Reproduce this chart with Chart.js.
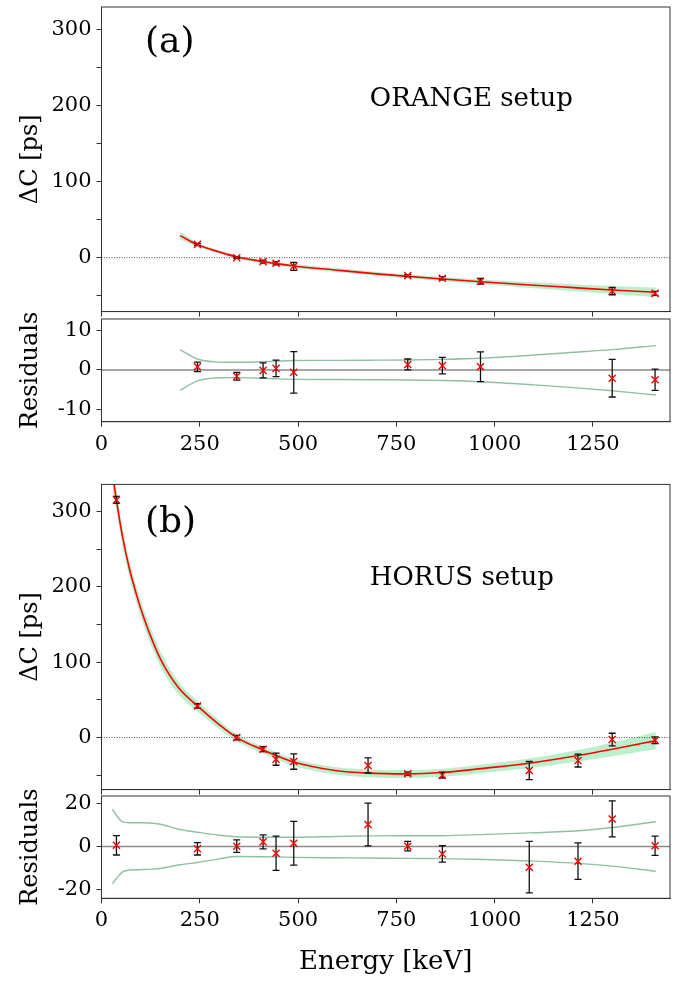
<!DOCTYPE html>
<html lang="en">
<head>
  <meta charset="UTF-8">
  <title>Delta C calibration</title>
  <script src="https://cdn.jsdelivr.net/npm/chart.js"></script>
  <style>
    body { margin: 0; background: #fff; }
    #wrap { position: relative; width: 686px; height: 986px; }
    canvas { position: absolute; left: 0; }
  </style>
</head>
<body>
<div id="wrap">
  <canvas id="aMain" width="686" height="318" style="top:0px"></canvas>
  <canvas id="aRes" width="686" height="180" style="top:298px"></canvas>
  <canvas id="bMain" width="686" height="318" style="top:478px"></canvas>
  <canvas id="bRes" width="686" height="210" style="top:776px"></canvas>
</div>

<script>
  // shared x axis
  const X_MAX = 1446;
  const xTicks = [0, 250, 500, 750, 1000, 1250];
  const yTicksMain = [-50, 0, 50, 100, 150, 200, 250, 300];
  const yLabelsMain = [0, 100, 200, 300];
  const yTicksResA = [-10, 0, 10];
  const yTicksResB = [-20, 0, 20];

  // (a) ORANGE setup
  const energyA = [244, 344, 411, 444, 489, 779, 867, 964, 1299, 1408];
  const deltaCA = [17.5, 0, -5.2, -7.4, -11.4, -23.6, -27, -31, -44, -47];
  const errA    = [1.2, 1.0, 1.9, 2.1, 5.3, 1.4, 2.1, 3.8, 4.8, 2.7];
  const residA  = [0.8, -1.6, -0.1, 0.4, -0.6, 1.4, 1.1, 0.8, -2.1, -2.5];
  const fitXA   = [200, 244, 300, 344, 411, 444, 489, 600, 700, 779, 867, 964, 1100, 1200, 1299, 1410];
  const fitYA   = [29, 17, 7.5, 1, -5.1, -7.8, -10.9, -16.5, -21.3, -24.6, -28, -31.7, -36.3, -39.4, -42.6, -45.6];
  const bandUpA = [5.1, 2.8, 2.0, 1.95, 2.1, 2.25, 2.4, 2.45, 2.5, 2.55, 2.7, 3.0, 3.8, 4.5, 5.2, 6.2];
  const bandLoA = [5.2, 2.8, 2.0, 1.95, 2.1, 2.25, 2.4, 2.45, 2.5, 2.55, 2.7, 3.0, 3.8, 4.5, 5.3, 6.4];

  // (b) HORUS setup
  const energyB = [38, 244, 344, 411, 444, 489, 678, 779, 867, 1088, 1212, 1299, 1408];
  const deltaCB = [315.5, 42, 0, -15.4, -28.7, -31.8, -37, -48, -49.8, -43.7, -30.5, -2.6, -3.5];
  const errB    = [4.5, 2.9, 2.9, 3.3, 8, 10.2, 10, 2.2, 3.8, 12, 8.5, 8.4, 4.5];
  const residB  = [0.5, -1.1, 0.1, 2.1, -3.2, 1.5, 10.2, 0.1, -3.5, -9.7, -6.9, 12.8, 0.3];
  const fitXB   = [28, 38, 53, 71, 90, 107, 130, 153, 196, 244, 300, 344, 411, 444, 489, 594, 678, 779, 867, 977, 1088, 1212, 1299, 1410];
  const fitYB   = [349, 315, 268, 224, 188, 160, 128, 101, 66, 42, 17, 0, -16.5, -23.8, -32.5, -43.7, -47.2, -48.1, -46.3, -40.5, -34, -23.8, -15.4, -4];
  const bandUpB = [17.4, 14.5, 11.5, 11, 11, 11, 10.8, 10.2, 8, 6.6, 5.2, 4.5, 4.3, 4.3, 4.3, 4.6, 4.9, 5, 5, 5.6, 6.3, 7.3, 8.8, 11.5];
  const bandLoB = [17.4, 15, 12, 11, 10.9, 10.8, 10.6, 10.2, 8.7, 7.5, 5.8, 4.7, 4.8, 4.9, 5.1, 5.3, 5.4, 5.6, 5.7, 6.1, 6.8, 7.9, 9.2, 11.6];

  Chart.defaults.font.family = '"DejaVu Serif", serif';
  Chart.defaults.color = '#000';

  const pts = (xs, ys) => xs.map((x, i) => ({x: x, y: ys[i]}));

  const errorBars = {
    id: 'errorBars',
    beforeDatasetDraw(chart, args) {
      const ds = chart.data.datasets[args.index];
      if (!ds.errors) return;
      const ctx = chart.ctx, sx = chart.scales.x, sy = chart.scales.y;
      ctx.save();
      ctx.strokeStyle = '#111';
      ctx.lineWidth = 1.3;
      ds.data.forEach((p, i) => {
        const x = sx.getPixelForValue(p.x);
        const y1 = sy.getPixelForValue(p.y - ds.errors[i]);
        const y2 = sy.getPixelForValue(p.y + ds.errors[i]);
        ctx.beginPath();
        ctx.moveTo(x, y1); ctx.lineTo(x, y2);
        ctx.moveTo(x - 3.5, y1); ctx.lineTo(x + 3.5, y1);
        ctx.moveTo(x - 3.5, y2); ctx.lineTo(x + 3.5, y2);
        ctx.stroke();
      });
      ctx.restore();
    }
  };

  const frame = {
    id: 'frame',
    afterDraw(chart) {
      const {ctx, chartArea: a} = chart;
      ctx.save();
      ctx.strokeStyle = '#333';
      ctx.lineWidth = 1;
      ctx.strokeRect(a.left, a.top, a.right - a.left, a.bottom - a.top);
      ctx.restore();
    }
  };

  function texts(items) {
    return {
      id: 'texts',
      afterDraw(chart) {
        const {ctx, chartArea: a} = chart;
        ctx.save();
        ctx.fillStyle = '#000';
        ctx.textBaseline = 'alphabetic';
        items.forEach(t => {
          ctx.font = t.size + 'px "DejaVu Serif"';
          ctx.fillText(t.text, a.left + t.fx * (a.right - a.left), a.top + t.fy * (a.bottom - a.top));
        });
        ctx.restore();
      }
    };
  }

  function xAxis(height, labels, title) {
    return {
      type: 'linear', min: 0, max: X_MAX,
      afterFit(s) { s.height = height; s.paddingLeft = 0; s.paddingRight = 0; },
      afterBuildTicks(s) { s.ticks = xTicks.map(v => ({value: v})); },
      grid: {drawOnChartArea: false, tickLength: 5, color: '#333'},
      border: {color: '#333'},
      ticks: {display: labels, padding: 5, font: {size: 21}, maxRotation: 0, autoSkip: false,
              callback: v => String(v)},
      title: title ? {display: true, text: title, font: {size: 26}, padding: {top: 0, bottom: 8}} : {display: false}
    };
  }

  function yAxis(min, max, ticks, labeled, title) {
    return {
      min: min, max: max,
      afterFit(s) { s.width = 93.5; s.paddingTop = 0; s.paddingBottom = 0; },
      afterBuildTicks(s) { s.ticks = ticks.map(v => ({value: v})); },
      grid: {drawOnChartArea: false, tickLength: 5, color: '#333'},
      border: {color: '#333'},
      ticks: {padding: 5, font: {size: 21}, autoSkip: false,
              callback: v => labeled.includes(v) ? String(v) : ''},
      title: {display: true, text: title, font: {size: 24}, padding: {top: 8, bottom: 0}}
    };
  }

  function mainPanel(id, padTop, xh, ymin, ymax, ex, ey, err, fx, fy, up, lo, items) {
    new Chart(document.getElementById(id), {
      type: 'line',
      data: {
        datasets: [
          {data: pts(ex, ey), errors: err, showLine: false, pointStyle: 'crossRot',
           pointRadius: 5, borderColor: '#ff0000', pointBorderWidth: 1.4, backgroundColor: '#ff0000'},
          {data: pts(fx, fy), borderColor: '#ff0000', borderWidth: 1.6, pointRadius: 0,
           cubicInterpolationMode: 'monotone', fill: false},
          {data: pts([0, X_MAX], [0, 0]), borderColor: '#222', borderWidth: 0.8,
           borderDash: [1, 1.5], pointRadius: 0, fill: false},
          {data: pts(fx, fy.map((v, i) => v + up[i])), borderWidth: 0, pointRadius: 0,
           cubicInterpolationMode: 'monotone', fill: false},
          {data: pts(fx, fy.map((v, i) => v - lo[i])), borderWidth: 0, pointRadius: 0,
           cubicInterpolationMode: 'monotone', fill: '-1', backgroundColor: 'rgba(150,232,178,0.65)'}
        ]
      },
      options: {
        responsive: false, animation: false, devicePixelRatio: 1, events: [],
        layout: {padding: {left: 8, right: 16, top: padTop, bottom: 0}},
        plugins: {legend: {display: false}, tooltip: {enabled: false}},
        scales: {x: xAxis(xh, false), y: yAxis(ymin, ymax, yTicksMain, yLabelsMain, 'ΔC [ps]')}
      },
      plugins: [errorBars, frame, texts(items)]
    });
  }

  function resPanel(id, padTop, xh, lim, yt, ex, res, err, fx, up, lo, xTitle) {
    new Chart(document.getElementById(id), {
      type: 'line',
      data: {
        datasets: [
          {data: pts(ex, res), errors: err, showLine: false, pointStyle: 'crossRot',
           pointRadius: 5, borderColor: '#ff0000', pointBorderWidth: 1.4, backgroundColor: '#ff0000'},
          {data: pts(fx, up), borderColor: 'rgba(70,150,100,0.6)', borderWidth: 1.4, pointRadius: 0,
           cubicInterpolationMode: 'monotone', fill: false},
          {data: pts(fx, lo.map(v => -v)), borderColor: 'rgba(70,150,100,0.6)', borderWidth: 1.4, pointRadius: 0,
           cubicInterpolationMode: 'monotone', fill: false},
          {data: pts([0, X_MAX], [0, 0]), borderColor: '#8a8a8a', borderWidth: 1.5,
           pointRadius: 0, fill: false}
        ]
      },
      options: {
        responsive: false, animation: false, devicePixelRatio: 1, events: [],
        layout: {padding: {left: 8, right: 16, top: padTop, bottom: 0}},
        plugins: {legend: {display: false}, tooltip: {enabled: false}},
        scales: {x: xAxis(xh, true, xTitle), y: yAxis(-lim[0], lim[1], yt, yt, 'Residuals')}
      },
      plugins: [errorBars, frame]
    });
  }

  mainPanel('aMain', 7, 5, -71, 330, energyA, deltaCA, errA, fitXA, fitYA, bandUpA, bandLoA, [
    {text: '(a)', size: 36, fx: 0.0765, fy: 0.147},
    {text: 'ORANGE setup', size: 26, fx: 0.472, fy: 0.3235}
  ]);
  resPanel('aRes', 21, 56.3, [13.2, 13], yTicksResA, energyA, residA, errA, fitXA, bandUpA, bandLoA, null);

  mainPanel('bMain', 6, 6, -69, 336, energyB, deltaCB, errB, fitXB, fitYB, bandUpB, bandLoB, [
    {text: '(b)', size: 36, fx: 0.0765, fy: 0.157},
    {text: 'HORUS setup', size: 26, fx: 0.472, fy: 0.33}
  ]);
  resPanel('bRes', 20, 87.7, [24.2, 23.5], yTicksResB, energyB, residB, errB, fitXB, bandUpB, bandLoB, 'Energy [keV]');
</script>
</body>
</html>
